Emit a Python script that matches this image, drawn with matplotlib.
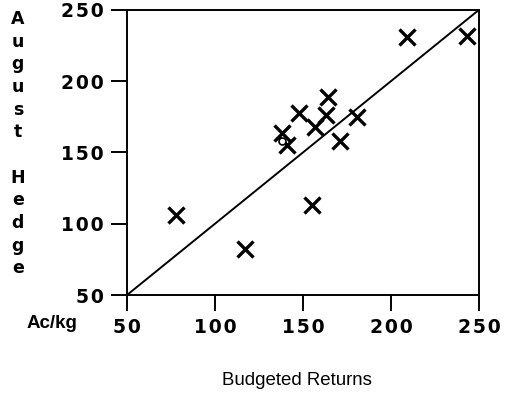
import matplotlib
matplotlib.use('Agg')
import matplotlib.pyplot as plt

plt.rcParams['font.family'] = ['DejaVu Sans']

# budgeted returns vs august hedge (Ac/kg)
budgeted = [78, 117, 155, 209, 243, 164, 148, 181, 171, 163, 157, 138, 141]
hedge = [106, 82, 113, 231, 232, 189, 178, 175, 158, 176, 168, 164, 155]
circle_x = [138]
circle_y = [158]
ticks = [50, 100, 150, 200, 250]
tick_labels = ["\u200a".join(str(t)) for t in ticks]
ylab = "August Hedge"

fig = plt.figure(figsize=(5.1, 3.96), dpi=100)
ax = fig.add_axes([0.249, 0.255, 0.690, 0.720])

ax.plot([50, 250], [50, 250], color='black', lw=1.4)
ax.plot(budgeted, hedge, linestyle='none', marker='x', ms=11, mew=2.4, color='black')
ax.plot(circle_x, circle_y, linestyle='none', marker='o', ms=5, mfc='white', mec='black', mew=1.2)

ax.set_xlim(50, 250)
ax.set_ylim(50, 250)
ax.set_xticks(ticks, tick_labels)
ax.set_yticks(ticks, tick_labels)
ax.tick_params(direction='out', length=11.5, width=1.4, labelsize=13.5, pad=5)
for s in ax.spines.values():
    s.set_linewidth(1.4)
for lab in ax.get_xticklabels() + ax.get_yticklabels():
    lab.set_fontweight('bold')

fig.text(0.102, 0.184, "Ac/kg", fontsize=13.5, fontweight='bold', ha='center', va='center',
         family='Liberation Sans')
fig.text(0.035, 0.975, "\n".join(ylab), fontsize=12.5, fontweight='bold',
         ha='center', va='top', linespacing=1.335)
fig.text(0.582, 0.038, "Budgeted Returns", fontsize=13.4, ha='center', va='center',
         family='Liberation Sans')

fig.savefig("out.png", dpi=100)
